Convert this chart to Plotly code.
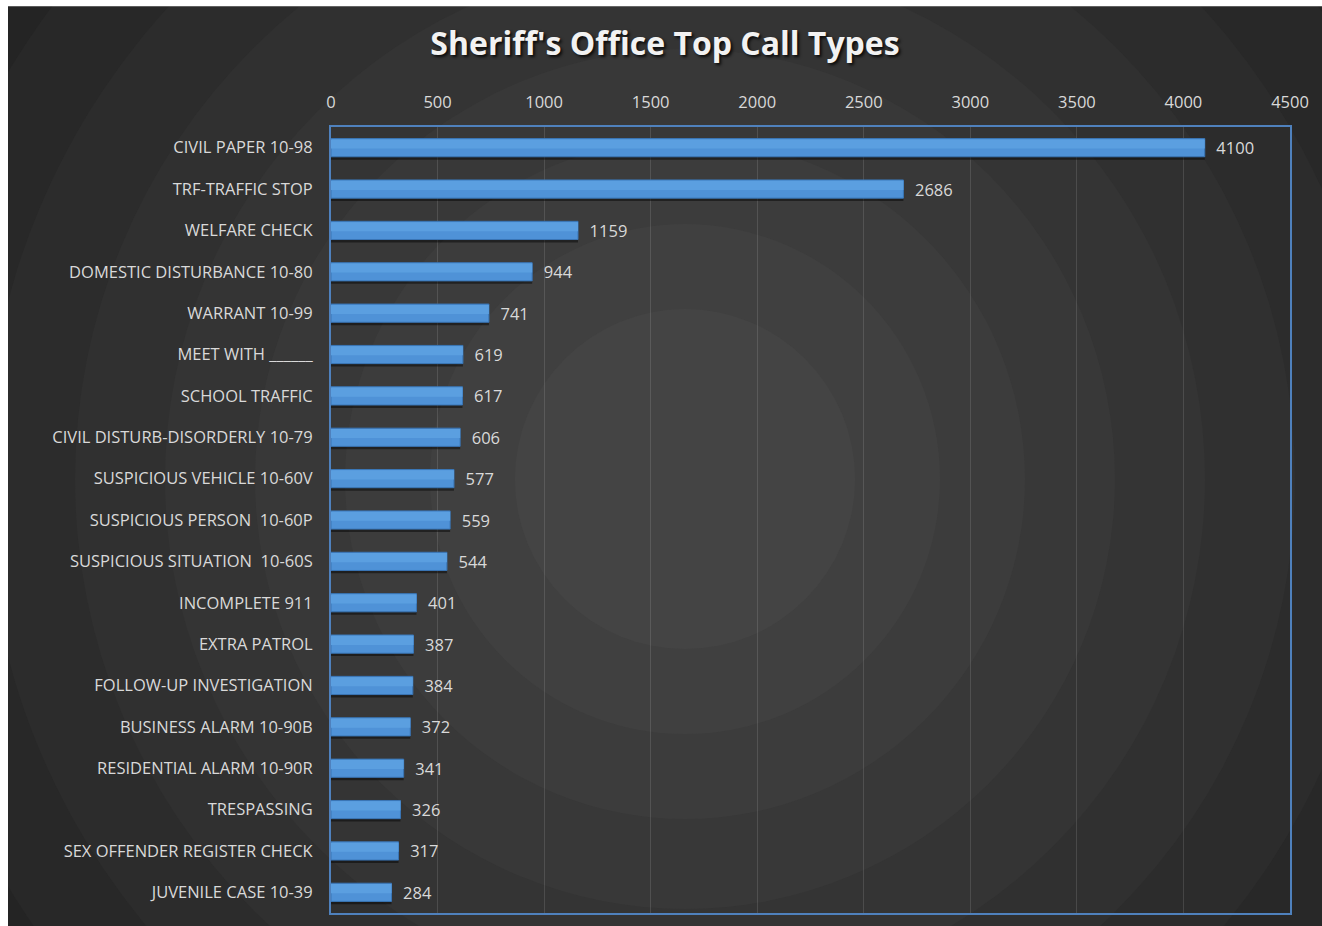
import plotly.graph_objects as go

categories = ["CIVIL PAPER 10-98", "TRF-TRAFFIC STOP", "WELFARE CHECK", "DOMESTIC DISTURBANCE 10-80",
              "WARRANT 10-99", "MEET WITH ______", "SCHOOL TRAFFIC", "CIVIL DISTURB-DISORDERLY 10-79",
              "SUSPICIOUS VEHICLE 10-60V", "SUSPICIOUS PERSON  10-60P", "SUSPICIOUS SITUATION  10-60S",
              "INCOMPLETE 911", "EXTRA PATROL", "FOLLOW-UP INVESTIGATION", "BUSINESS ALARM 10-90B",
              "RESIDENTIAL ALARM 10-90R", "TRESPASSING", "SEX OFFENDER REGISTER CHECK", "JUVENILE CASE 10-39"]
values = [4100, 2686, 1159, 944, 741, 619, 617, 606, 577, 559, 544, 401, 387, 384, 372, 341, 326, 317, 284]
x_ticks = [0, 500, 1000, 1500, 2000, 2500, 3000, 3500, 4000, 4500]

W, H = 1322, 926
L, R, T, B = 331, 1290, 127, 915
pw, ph = R - L, B - T

def px(p):
    return (p - L) / pw

def py(p):
    return (B - p) / ph

BW = 0.44  # bar thickness in category units

fig = go.Figure()
# soft drop shadow
fig.add_trace(go.Bar(
    y=categories, x=values, orientation="h", width=BW, offset=-BW / 2 + 0.07,
    marker=dict(color="rgba(0,0,0,0.45)", line=dict(width=0)), hoverinfo="skip",
))
# main bars
fig.add_trace(go.Bar(
    y=categories, x=values, orientation="h", width=BW, offset=-BW / 2,
    marker=dict(color="#4f92d7", line=dict(color="#3a76b6", width=1)),
    text=["\u00a0\u00a0" + str(v) for v in values], textposition="outside",
    constraintext="none",
    textfont=dict(color="#d9d9d9", size=16.5, family="Open Sans"),
    cliponaxis=False,
))
# top highlight (gradient imitation)
fig.add_trace(go.Bar(
    y=categories, x=values, orientation="h", width=BW * 0.5, offset=-BW / 2 + 0.02,
    marker=dict(color="#5b9fe0", line=dict(width=0)), hoverinfo="skip",
))

shapes = []
shapes.append(dict(type="rect", xref="paper", yref="paper", x0=px(8), x1=px(W + 20), y0=py(6), y1=py(H + 20),
                   fillcolor="#212121", line=dict(width=0), layer="below"))
cx, cy = px(685), py(480)
rings = [(880, "#242424"), (790, "#282828"), (700, "#2c2c2c"), (610, "#303030"), (520, "#343434"),
         (430, "#383838"), (340, "#3c3c3c"), (255, "#404040"), (170, "#444444")]
for r, c in rings:
    shapes.append(dict(type="circle", xref="paper", yref="paper", xsizemode="pixel", ysizemode="pixel",
                       xanchor=cx, yanchor=cy, x0=-r, x1=r, y0=-r, y1=r,
                       fillcolor=c, line=dict(width=0), layer="below"))
shapes.append(dict(type="rect", xref="paper", yref="paper", x0=px(-50), x1=px(8), y0=py(-50), y1=py(H + 50),
                   fillcolor="white", line=dict(width=0), layer="below"))
shapes.append(dict(type="rect", xref="paper", yref="paper", x0=px(-50), x1=px(W + 50), y0=py(-50), y1=py(6),
                   fillcolor="white", line=dict(width=0), layer="below"))

fig.update_layout(
    width=W, height=H,
    margin=dict(l=L, r=W - R, t=T, b=H - B, pad=0),
    paper_bgcolor="white", plot_bgcolor="rgba(0,0,0,0)",
    shapes=shapes,
    barmode="overlay",
    showlegend=False,
    title=dict(text="<b>Sheriff's Office Top Call Types</b>", x=665 / W, xanchor="center",
               y=1 - 44 / H, yanchor="middle",
               font=dict(family="Open Sans", size=32, color="#f2f2f2",
                         shadow="2px 2px 3px rgba(0,0,0,0.8)")),
    xaxis=dict(side="top", range=[0, 4500], tickvals=x_ticks, ticktext=[str(t) for t in x_ticks],
               showgrid=True, gridcolor="rgba(255,255,255,0.12)", gridwidth=1,
               zeroline=False, showline=True, linecolor="#4f81bd", linewidth=2, mirror=True,
               ticks="", ticklabelstandoff=10,
               tickfont=dict(family="Open Sans", size=16.5, color="#d9d9d9")),
    yaxis=dict(autorange="reversed", showgrid=False, zeroline=False, showline=True,
               linecolor="#4f81bd", linewidth=2, mirror=True, ticks="", ticklabelstandoff=13,
               tickfont=dict(family="Open Sans", size=16.5, color="#d9d9d9")),
)

fig.write_html("out.html", default_width=f"{W}px", default_height=f"{H}px",
               config={"displayModeBar": False},
               post_script="document.body.style.margin='0';document.body.style.overflow='hidden';")
